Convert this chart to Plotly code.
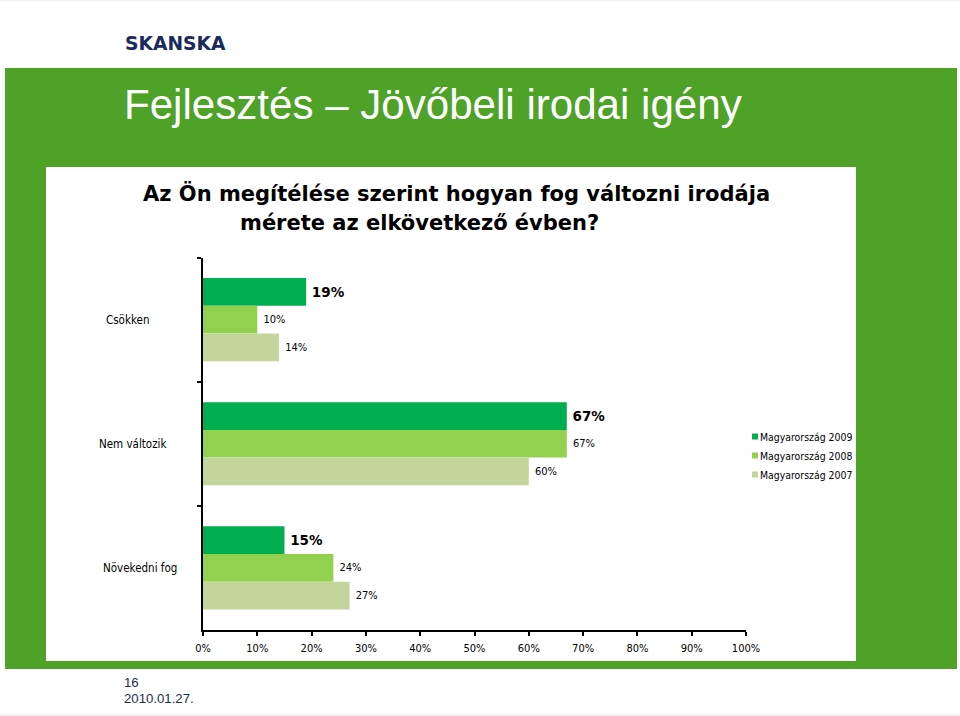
import plotly.graph_objects as go

categories = ['Csökken', 'Nem változik', 'Növekedni fog']
series_names = ['Magyarország 2009', 'Magyarország 2008', 'Magyarország 2007']
values_2009 = [19, 67, 15]
values_2008 = [10, 67, 24]
values_2007 = [14, 60, 27]
x_ticks = [0, 10, 20, 30, 40, 50, 60, 70, 80, 90, 100]
x_tick_labels = [f'{t}%' for t in x_ticks]

colors = ['#00AE50', '#92D14F', '#C4D59B']
W, H = 960, 716
LABEL_FONT = 'DejaVu Sans Condensed, Noto Sans'


def px(x):
    return x / W


def py(y):
    return 1 - y / H


fig = go.Figure()

for name, values, color, bold in zip(series_names, [values_2009, values_2008, values_2007], colors, [True, False, False]):
    fig.add_trace(go.Bar(
        name=name, y=categories, x=values, orientation='h',
        marker=dict(color=color, line_width=0),
        text=values, texttemplate=('\u2009' if bold else '\u00a0') + '%{text}%', textposition='outside',
        cliponaxis=False, constraintext='none',
        textfont=dict(family='DejaVu Sans' if bold else LABEL_FONT, size=13.5 if bold else 11,
                      color='#000000', weight='bold' if bold else 'normal'),
        showlegend=False,
    ))
    # small square swatches for the legend, nudged next to the text
    fig.add_trace(go.Scatter(
        name=name, x=[None], y=[None], mode='markers',
        marker=dict(symbol='square', size=6, color=color, angle=90, standoff=15),
    ))

fig.update_layout(
    width=W, height=H,
    margin=dict(l=0, r=0, t=0, b=0, autoexpand=False),
    paper_bgcolor='#FFFFFF',
    plot_bgcolor='rgba(0,0,0,0)',
    barmode='group',
    bargap=0.33,
    bargroupgap=0,
    font=dict(family=LABEL_FONT, size=11, color='#000000'),
    xaxis=dict(
        domain=[px(203), px(746)], range=[0, 100], tickvals=x_ticks, ticktext=x_tick_labels,
        ticks='outside', ticklen=4, tickwidth=1.5, tickcolor='#000000',
        showline=True, linecolor='#000000', linewidth=2, showgrid=False, zeroline=False,
        anchor='y', tickfont=dict(family=LABEL_FONT, size=11), ticklabelstandoff=3,
    ),
    yaxis=dict(
        domain=[py(630), py(257.5)], type='category', categoryorder='array',
        categoryarray=categories, autorange='reversed',
        tickson='boundaries', ticks='outside', ticklen=4, tickwidth=1.5, tickcolor='#000000',
        showticklabels=False, showline=True, linecolor='#000000', linewidth=2,
        showgrid=False, zeroline=False,
    ),
    legend=dict(
        x=px(735), y=py(422), xanchor='left', yanchor='top', bgcolor='rgba(0,0,0,0)',
        font=dict(family=LABEL_FONT, size=10.4), tracegroupgap=0, indentation=-15,
    ),
    shapes=[
        dict(type='rect', xref='paper', yref='paper', x0=px(5), x1=px(957), y0=py(669), y1=py(68),
             fillcolor='#4EA227', line_width=0, layer='below'),
        dict(type='rect', xref='paper', yref='paper', x0=px(46), x1=px(856), y0=py(661), y1=py(167),
             fillcolor='#FFFFFF', line_width=0, layer='below'),
        dict(type='rect', xref='paper', yref='paper', x0=0, x1=1, y0=py(1.5), y1=1,
             fillcolor='#F1F1F1', line_width=0, layer='below'),
        dict(type='rect', xref='paper', yref='paper', x0=0, x1=1, y0=0, y1=py(714),
             fillcolor='#F1F1F1', line_width=0, layer='below'),
    ],
)

# category labels sit at their own offsets from the axis, as in the slide
label_right = [151, 168, 179]
for cat, right in zip(categories, label_right):
    fig.add_annotation(xref='paper', yref='y', x=px(right), y=cat, text=cat, showarrow=False,
                       xanchor='right', font=dict(family=LABEL_FONT, size=11.5))

texts = [
    ('SKANSKA', 123, 44, 'DejaVu Sans', 18.7, '#1B2A5E', 'bold'),
    ('Fejlesztés – Jövőbeli irodai igény', 122, 105, 'Liberation Sans', 42.1, '#FFFFFF', 'normal'),
    ('16', 122, 682, 'Liberation Sans', 13.2, '#1F2D4D', 'normal'),
    ('2010.01.27.', 122, 698, 'Liberation Sans', 13.2, '#1F2D4D', 'normal'),
]
for text, x, y, family, size, color, weight in texts:
    fig.add_annotation(xref='paper', yref='paper', x=px(x), y=py(y), text=text, showarrow=False,
                       xanchor='left', yanchor='middle',
                       font=dict(family=family, size=size, color=color, weight=weight))

question_lines = ['Az Ön megítélése szerint hogyan fog változni irodája', 'mérete az elkövetkező évben?']
for line, x, y in zip(question_lines, [456.5, 419], [194, 223]):
    fig.add_annotation(xref='paper', yref='paper', x=px(x), y=py(y), text=line,
                       showarrow=False, xanchor='center', yanchor='middle',
                       font=dict(family='DejaVu Sans', size=21, color='#000000', weight='bold'))

fig.write_html('out.html', config={'displayModeBar': False}, post_script="document.body.style.margin='0';")
